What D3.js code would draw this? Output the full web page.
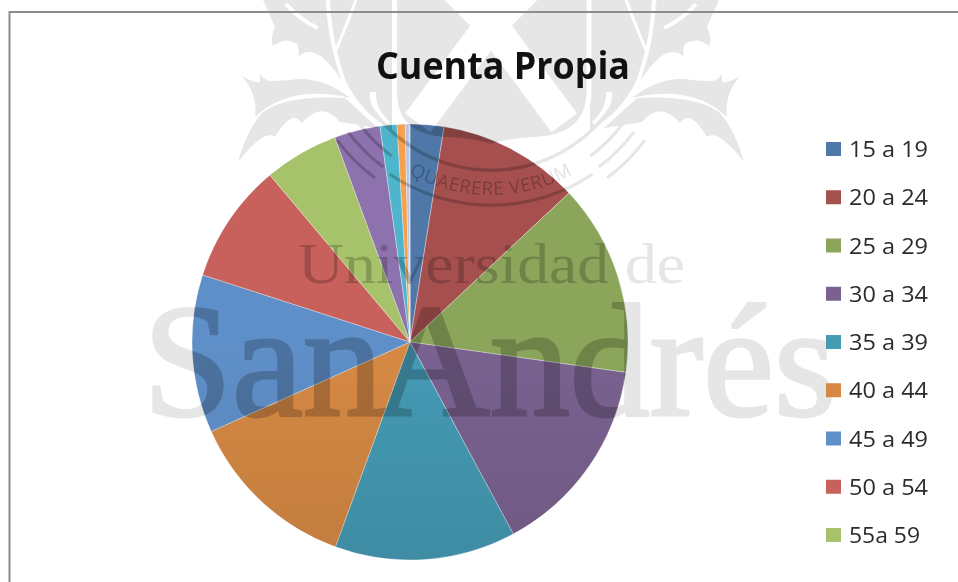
<!DOCTYPE html>
<html><head><meta charset="utf-8">
<script src="https://cdn.jsdelivr.net/npm/d3@7"></script>
<style>html,body{margin:0;padding:0;background:#fff}svg{display:block}</style>
</head><body><svg id="c" width="958" height="582"></svg>
<script>
const titleText = "Cuenta Propia";
const categories = ["15 a 19","20 a 24","25 a 29","30 a 34","35 a 39","40 a 44","45 a 49","50 a 54","55a 59","60 a 64","65 a 69","70 a 74","75 a 79","80 y más"];
const shares = [2.5,10.5,14.2,14.9,13.4,12.7,11.7,8.9,5.5,3.4,1.25,0.6,0.3,0.05];
const sliceColors = ["#4f78a8","#a5504f","#8ba65b","#7a6290","#459ab4","#d58944","#5f8fc8","#c8605b","#a6c26a","#8d72ad","#4fb5cd","#f5a04f","#b8c5e2","#e6b8b7"];
const legendCount = 9;
const watermarkWords = ["Universidad de","San Andrés"];
const mottoText = "QUAERERE VERUM";

const svg = d3.select("#c");
const W = 958, H = 582, cx = 410, cy = 342, R = 218;
const defs = svg.append("defs");
const g = defs.append("linearGradient").attr("id","shade").attr("x1",0).attr("x2",0).attr("y1",0).attr("y2",1);
g.append("stop").attr("offset","0.5").attr("stop-color","#000").attr("stop-opacity",0);
g.append("stop").attr("offset","1").attr("stop-color","#000").attr("stop-opacity",0.09);

// pie
const pie = d3.pie().sort(null).value(d=>d.v).startAngle(0).endAngle(2*Math.PI);
const arc = d3.arc().innerRadius(0).outerRadius(R);
const rows = categories.map((c,i)=>({c,v:shares[i],col:sliceColors[i]}));
const pg = svg.append("g").attr("transform",`translate(${cx},${cy})`);
pg.selectAll("path.s").data(pie(rows)).join("path").attr("class","s")
  .attr("d",arc).attr("fill",d=>d.data.col)
  .attr("stroke","#fff").attr("stroke-opacity",0.4).attr("stroke-width",0.8);
pg.append("circle").attr("r",R).attr("fill","url(#shade)");

// watermark, multiplied over everything below it
const wm = svg.append("g").style("mix-blend-mode","multiply");
const GREY = "#cacaca";
const deg = d=>d*Math.PI/180;

// thistles, mirrored about the crest axis
const AXIS = 491;
const thistleFills = [
 "M263,0L275,27Q270,38 273,46Q285,36 297,44Q300,50 298,57Q308,47 322,57Q336,70 345,86Q330,50 325,0Z",
 "M242,76Q256,84 260,82L260,74Q266,82 272,81Q285,81 298,79Q325,78 350,98Q290,84 255,117Q258,95 242,76Z",
 "M238,162Q247,130 262,113Q285,95 345,98L378,128L340,122Q322,100 302,123Q292,108 275,137Q265,128 238,162Z",
 "M325,0Q330,50 345,86Q365,115 392,130V0Z"
];
const thistleWhites = [
 ["M328,0Q330,45 345,84Q358,110 385,130",4],
 ["M356,0Q343,34 336,50",3],
 ["M286,4Q300,20 318,28",4],
 ["M373,92Q372,110 388,124",6]
];
[0,1].forEach(k=>{
  const t = wm.append("g").attr("transform", k===0?null:`translate(${2*AXIS},0) scale(-1,1)`);
  thistleFills.forEach(d=>t.append("path").attr("d",d).attr("fill",GREY));
  thistleWhites.forEach(([d,w])=>t.append("path").attr("d",d).attr("fill","none").attr("stroke","#fff").attr("stroke-width",w));
});

// shield, ring and motto
const crest = wm.append("g").attr("transform","translate(221,0) scale(0.344)");
const MID = 785;
const clip = defs.append("clipPath").attr("id","shield");
const shieldD = "M505,-20V270Q505,400 660,405Q740,410 785,425Q830,410 910,405Q1065,400 1070,270V-20Z";
clip.append("path").attr("d",shieldD);
crest.append("path").attr("d",shieldD).attr("fill",GREY).attr("stroke","#fff").attr("stroke-width",14);
const xg = crest.append("g").attr("clip-path","url(#shield)").attr("stroke","#fff").attr("stroke-width",92).attr("fill","none");
const xLine = d3.line();
xg.append("path").attr("d",xLine([[572,357],[785,70],[998,357]]));
xg.append("path").attr("d",xLine([[640,-75],[785,70],[930,-75]]));

const ringArc = d3.arc();
const rg = crest.append("g").attr("transform",`translate(${MID},70)`).attr("fill",GREY);
[[420,430,58],[522,531,34]].forEach(([a,b,sweep])=>{
  rg.append("path").attr("d",ringArc({innerRadius:a,outerRadius:b,startAngle:deg(180-sweep),endAngle:deg(180+sweep)}));
});
[[476,485],[516,525],[556,565]].forEach(([a,b])=>{
  rg.append("path").attr("d",ringArc({innerRadius:a,outerRadius:b,startAngle:deg(217),endAngle:deg(233)}));
  rg.append("path").attr("d",ringArc({innerRadius:a,outerRadius:b,startAngle:deg(127),endAngle:deg(143)}));
});
const mr = 497, ma = deg(38);
defs.append("path").attr("id","mottoPath")
  .attr("d",`M${MID-mr*Math.sin(ma)},${70+mr*Math.cos(ma)}A${mr},${mr} 0 0 0 ${MID+mr*Math.sin(ma)},${70+mr*Math.cos(ma)}`);
crest.append("text").attr("font-family","'Open Sans',sans-serif").attr("font-size",54).attr("fill","#c0c0c0").attr("letter-spacing",2)
  .append("textPath").attr("href","#mottoPath").attr("startOffset","50%").attr("text-anchor","middle").text(mottoText);

wm.append("text").attr("x",298).attr("y",283).attr("font-family","'Liberation Serif',serif")
  .attr("font-size",58).attr("fill",GREY).attr("textLength",387).attr("lengthAdjust","spacingAndGlyphs").text(watermarkWords[0]);
wm.append("text").attr("x",143).attr("y",415).attr("font-family","'Liberation Serif',serif")
  .attr("font-size",160).attr("word-spacing",-40).attr("fill",GREY).attr("stroke",GREY).attr("stroke-width",3).text(watermarkWords[1]);

// lighten the watermark outside the pie
const hole = d3.path();
hole.rect(0,0,W,H);
hole.moveTo(cx+R,cy); hole.arc(cx,cy,R,0,2*Math.PI);
svg.append("path").attr("d",hole.toString()).attr("fill","#fff").attr("fill-opacity",0.52).attr("fill-rule","evenodd");

// frame
svg.append("path").attr("d",`M9.5,${H}V12H${W}`).attr("fill","none").attr("stroke","#8c8c8c").attr("stroke-width",2);

// title
svg.append("text").attr("x",376).attr("y",79).attr("font-family","'Open Sans',sans-serif").attr("font-weight",700)
  .attr("font-size",38).attr("fill","#111").attr("textLength",254).attr("lengthAdjust","spacingAndGlyphs").text(titleText);

// legend
const legendRows = rows.slice(0,legendCount);
const ly = d3.scalePoint().domain(legendRows.map(d=>d.c)).range([149,535]);
const lg = svg.append("g").selectAll("g").data(legendRows).join("g").attr("transform",d=>`translate(826,${ly(d.c)})`);
lg.append("rect").attr("x",0).attr("y",-7).attr("width",15).attr("height",14).attr("fill",d=>d.col);
lg.append("text").attr("x",23).attr("y",8).attr("font-family","'Open Sans',sans-serif").attr("font-size",21).attr("fill","#2b2b2b")
  .attr("textLength",d=>d.c==="55a 59"?71:79).attr("lengthAdjust","spacingAndGlyphs").text(d=>d.c);
</script></body></html>
